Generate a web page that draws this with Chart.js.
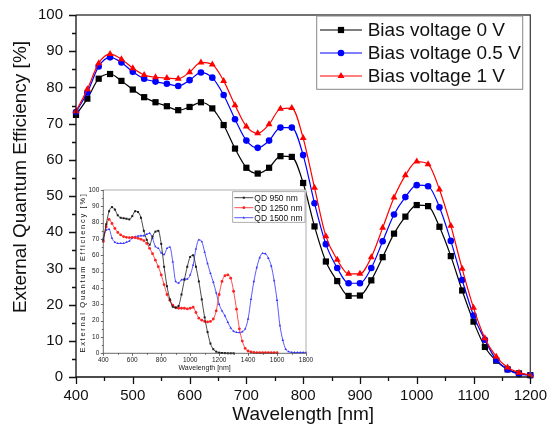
<!DOCTYPE html>
<html>
<head>
<meta charset="utf-8">
<script src="https://cdn.jsdelivr.net/npm/chart.js@4.4.0/dist/chart.umd.min.js"></script>
<style>
    html, body { margin: 0; padding: 0; background: #fff; }
    #wrap { position: relative; width: 550px; height: 432px; }
    #mainChart { position: absolute; left: 0; top: 0; }
    #insetChart { position: absolute; left: 78px; top: 178px; }
</style>
</head>
<body>
<div id="wrap">
    <canvas id="mainChart" width="550" height="432"></canvas>
    <canvas id="insetChart" width="240" height="198"></canvas>
</div>
<script>
// main plot: EQE vs wavelength for three bias voltages
const mainWl = [400, 420, 440, 460, 480, 500, 520, 540, 560, 580,
    600, 620, 640, 660, 680, 700, 720, 740, 760, 780,
    800, 820, 840, 860, 880, 900, 920, 940, 960, 980,
    1000, 1020, 1040, 1060, 1080, 1100, 1120, 1140, 1160, 1180, 1200];
const bias0 = [72.4, 76.9, 82.4, 83.7, 81.8, 79.4, 77.3, 75.9, 74.8, 73.7,
    74.6, 75.9, 74.2, 69.6, 63.1, 57.8, 56.2, 57.8, 61.0, 60.8,
    53.6, 41.6, 31.9, 26.5, 22.4, 22.5, 26.7, 33.1, 39.6, 44.3,
    47.5, 47.2, 41.5, 33.4, 23.9, 15.3, 8.3, 4.5, 2.1, 1.0, 0.5];
const bias05 = [73.2, 78.6, 85.8, 88.3, 86.9, 84.3, 82.4, 81.6, 81.0, 80.4,
    82.0, 84.1, 82.7, 77.9, 71.2, 65.3, 63.3, 65.3, 68.9, 68.9,
    61.3, 48.0, 36.7, 30.1, 25.9, 25.9, 30.1, 37.5, 44.9, 49.7,
    53.0, 52.7, 46.9, 37.6, 26.8, 17.0, 10.3, 4.7, 2.1, 0.8, 0.5];
const bias1 = [73.4, 79.5, 86.7, 89.2, 87.8, 85.3, 83.4, 82.8, 82.6, 82.4,
    84.2, 86.9, 86.3, 81.8, 75.1, 69.2, 67.3, 69.8, 74.1, 74.3,
    66.0, 52.3, 38.9, 32.4, 28.5, 28.5, 33.1, 41.2, 49.6, 55.7,
    59.5, 58.8, 51.8, 41.8, 29.9, 19.1, 10.7, 5.6, 2.6, 1.2, 0.5];
const biasLabels = ['Bias voltage 0 V', 'Bias voltage 0.5 V', 'Bias voltage 1 V'];

// inset: EQE of three QD devices
const insetWl = [400, 420, 440, 460, 480, 500, 520, 540, 560, 580,
    600, 620, 640, 660, 680, 700, 720, 740, 760, 780,
    800, 820, 840, 860, 880, 900, 920, 940, 960, 980,
    1000, 1020, 1040, 1060, 1080, 1100, 1120, 1140, 1160, 1180,
    1200, 1220, 1240, 1260, 1280, 1300, 1320, 1340, 1360, 1380,
    1400, 1420, 1440, 1460, 1480, 1500, 1520, 1540, 1560, 1580,
    1600, 1620, 1640, 1660, 1680, 1700, 1720, 1740, 1760, 1780, 1800];
const qd950 = [69.5, 79, 87, 89.5, 88, 84.5, 83, 82.7, 82.4, 82,
    84, 87, 86.5, 83, 75, 69.5, 66.5, 71.5, 74.5, 75,
    67, 53, 41, 33, 28.5, 28, 29, 36, 45, 53,
    59, 60, 53, 44, 33, 22, 13, 6, 2.5, 1,
    0.4, 0.2, 0.1, 0, 0, 0];
const qd1250 = [68.5, 77.5, 82, 79.5, 76.5, 74, 72.5, 71.5, 71, 70.8,
    71, 70.8, 70.4, 69.8, 69, 67.3, 64.3, 61, 57, 53,
    48, 42, 36, 32.5, 29.5, 28, 27.6, 27.6, 27.6, 27.2,
    27.6, 28.2, 25, 21.5, 20.3, 19.5, 19.2, 19.5, 21, 26,
    36, 44, 47.5, 48, 46, 38, 27, 15, 7.5, 3,
    1.4, 0.8, 0.5, 0.4, 0.4, 0.4, 0.4, 0.4, 0.4, 0.4, 0.4];
const qd1500 = [70.5, 75.5, 76, 70.5, 68, 67.3, 67.3, 67.3, 68, 68.8,
    70.4, 71.4, 71.8, 72, 72, 72.9, 73.5, 70.4, 65.3, 64.3,
    61.5, 60.5, 64.3, 65, 56, 44, 43, 45, 45.5, 45.5,
    48, 54, 64, 69.5, 68.4, 62, 55, 49, 43.5, 37,
    30, 26, 23, 19, 15.5, 13.5, 12.8, 12.7, 13.2, 15,
    21, 33, 44, 52.5, 58.5, 61.2, 61, 58.2, 53.5, 44.5,
    32.5, 17, 8, 2.5, 1, 0.6, 0.5, 0.5, 0.5, 0.5, 0.5];
const qdLabels = ['QD 950 nm', 'QD 1250 nm', 'QD 1500 nm'];

const FONT = "'Liberation Sans', Arial, sans-serif";
Chart.defaults.font.family = FONT;
Chart.defaults.color = '#111';

function pts(xs, ys) {
    return ys.map((y, i) => ({ x: xs[i], y: y }));
}

const plainNum = v => String(v);

function drawMarker(ctx, style, r, x, y, color) {
    ctx.fillStyle = color;
    ctx.beginPath();
    if (style === 'rect') {
        const s = r * Math.SQRT1_2;
        ctx.rect(x - s, y - s, 2 * s, 2 * s);
    } else if (style === 'triangle') {
        ctx.moveTo(x, y - r);
        ctx.lineTo(x + r * 0.866, y + r * 0.5);
        ctx.lineTo(x - r * 0.866, y + r * 0.5);
        ctx.closePath();
    } else {
        ctx.arc(x, y, r, 0, Math.PI * 2);
    }
    ctx.fill();
}

// frame + outward ticks (major / minor), drawn from the chart's scales
function frameTicks(o) {
    return {
        id: 'frameTicks',
        afterDatasetsDraw(chart) {
            const { ctx, chartArea: a, scales: { x, y } } = chart;
            ctx.save();
            ctx.lineWidth = o.lw;
            ctx.strokeStyle = o.frame;
            ctx.beginPath();
            ctx.moveTo(a.left, a.top); ctx.lineTo(a.right, a.top); ctx.lineTo(a.right, a.bottom);
            ctx.stroke();
            ctx.strokeStyle = o.axis;
            ctx.beginPath();
            ctx.moveTo(a.left, a.top); ctx.lineTo(a.left, a.bottom); ctx.lineTo(a.right, a.bottom);
            for (let v = x.min; v <= x.max; v += o.xStep) {
                const px = Math.round(x.getPixelForValue(v)) + 0.5;
                const len = v % o.xMajor === 0 ? o.major : o.minor;
                ctx.moveTo(px, a.bottom); ctx.lineTo(px, a.bottom + len);
            }
            for (let v = y.min; v <= y.max; v += o.yStep) {
                const py = Math.round(y.getPixelForValue(v)) + 0.5;
                const len = v % o.yMajor === 0 ? o.major : o.minor;
                ctx.moveTo(a.left, py); ctx.lineTo(a.left - len, py);
            }
            ctx.stroke();
            ctx.restore();
        }
    };
}

// legend box inside the plot
function boxLegend(o) {
    return {
        id: 'boxLegend',
        afterDraw(chart) {
            const ctx = chart.ctx;
            ctx.save();
            ctx.fillStyle = '#fff';
            ctx.fillRect(o.box[0], o.box[1], o.box[2], o.box[3]);
            ctx.strokeStyle = o.border;
            ctx.lineWidth = o.lw;
            ctx.strokeRect(o.box[0], o.box[1], o.box[2], o.box[3]);
            ctx.font = o.size + 'px ' + FONT;
            ctx.textBaseline = 'middle';
            o.order.forEach((di, row) => {
                const ds = chart.data.datasets[di];
                const yy = o.rows[row];
                ctx.strokeStyle = ds.borderColor;
                ctx.lineWidth = ds.borderWidth;
                ctx.beginPath();
                ctx.moveTo(o.line[0], yy); ctx.lineTo(o.line[1], yy);
                ctx.stroke();
                drawMarker(ctx, ds.pointStyle, ds.pointRadius, (o.line[0] + o.line[1]) / 2, yy, ds.borderColor);
                ctx.fillStyle = '#111';
                ctx.fillText(ds.label, o.textX, yy + 0.5);
            });
            ctx.restore();
        }
    };
}

function yTitle(o) {
    return {
        id: 'yTitle',
        afterDraw(chart) {
            const ctx = chart.ctx;
            ctx.save();
            ctx.translate(o.x, o.y);
            ctx.rotate(-Math.PI / 2);
            ctx.font = o.size + 'px ' + FONT;
            if (o.spacing) ctx.letterSpacing = o.spacing;
            ctx.fillStyle = '#111';
            ctx.textAlign = 'center';
            ctx.textBaseline = 'middle';
            ctx.fillText(o.text, 0, 0);
            ctx.restore();
        }
    };
}

const whiteArea = {
    id: 'whiteArea',
    beforeDraw(chart) {
        const { ctx, chartArea: a } = chart;
        ctx.save();
        ctx.fillStyle = '#fff';
        ctx.fillRect(a.left, a.top, a.right - a.left, a.bottom - a.top);
        ctx.restore();
    }
};

function mainSet(label, data, color, style, r, order) {
    return {
        label: label,
        data: pts(mainWl, data),
        borderColor: color,
        backgroundColor: color,
        borderWidth: 1.2,
        pointStyle: style,
        pointRadius: r,
        pointBorderWidth: 0,
        cubicInterpolationMode: 'monotone',
        clip: false,
        order: order
    };
}

new Chart(document.getElementById('mainChart'), {
    type: 'line',
    data: {
        datasets: [
            mainSet(biasLabels[0], bias0, '#000000', 'rect', 4.4, 2),
            mainSet(biasLabels[1], bias05, '#0000ff', 'circle', 3.3, 1),
            mainSet(biasLabels[2], bias1, '#ff0000', 'triangle', 4.0, 0)
        ]
    },
    options: {
        responsive: false,
        devicePixelRatio: 1,
        animation: false,
        layout: { padding: { left: 0, top: 7, right: 17, bottom: 0 }, autoPadding: false },
        plugins: { legend: { display: false }, tooltip: { enabled: false } },
        scales: {
            x: {
                type: 'linear',
                min: 400,
                max: 1200,
                afterFit: s => { s.height = 55; },
                grid: { display: true, drawOnChartArea: false, drawTicks: true, tickLength: 7, color: 'rgba(0,0,0,0)' },
                border: { display: false },
                ticks: { stepSize: 100, padding: 3, maxRotation: 0, autoSkip: false, font: { size: 15 }, color: '#111', callback: plainNum },
                title: { display: true, text: 'Wavelength [nm]', font: { size: 19 }, color: '#111', padding: { top: 0, bottom: 5.6 } }
            },
            y: {
                min: 0,
                max: 100,
                afterFit: s => { s.width = 76; },
                grid: { display: true, drawOnChartArea: false, drawTicks: true, tickLength: 7, color: 'rgba(0,0,0,0)' },
                border: { display: false },
                ticks: { stepSize: 10, padding: 6, font: { size: 15 }, color: '#111', callback: plainNum }
            }
        }
    },
    plugins: [
        frameTicks({ frame: '#444', axis: '#111', lw: 1.3, xStep: 50, xMajor: 100, yStep: 5, yMajor: 10, major: 7, minor: 4 }),
        boxLegend({ box: [316.7, 16, 206, 73.3], border: '#888', lw: 1, rows: [30, 53, 76], line: [320, 362], textX: 367.7, size: 19, order: [0, 1, 2] }),
        yTitle({ x: 20.5, y: 177, size: 19, text: 'External Quantum Efficiency [%]' })
    ]
});

function insetSet(label, data, color, style) {
    return {
        label: label,
        data: pts(insetWl, data),
        borderColor: color,
        backgroundColor: color,
        borderWidth: 0.8,
        pointStyle: style,
        pointRadius: 1.4,
        pointBorderWidth: 0,
        cubicInterpolationMode: 'monotone',
        clip: false
    };
}

new Chart(document.getElementById('insetChart'), {
    type: 'line',
    data: {
        datasets: [
            insetSet(qdLabels[0], qd950, '#1a1a1a', 'rect'),
            insetSet(qdLabels[1], qd1250, '#ff2020', 'circle'),
            insetSet(qdLabels[2], qd1500, '#3030ff', 'triangle')
        ]
    },
    options: {
        responsive: false,
        devicePixelRatio: 1,
        animation: false,
        layout: { padding: { left: 0, top: 12, right: 12, bottom: 0 }, autoPadding: false },
        plugins: { legend: { display: false }, tooltip: { enabled: false } },
        scales: {
            x: {
                type: 'linear',
                min: 400,
                max: 1800,
                afterFit: s => { s.height = 22.7; },
                grid: { display: true, drawOnChartArea: false, drawTicks: true, tickLength: 2.5, color: 'rgba(0,0,0,0)' },
                border: { display: false },
                ticks: { stepSize: 200, padding: 0.5, maxRotation: 0, autoSkip: false, font: { size: 6.5 }, color: '#222', callback: plainNum },
                title: { display: true, text: 'Wavelength [nm]', font: { size: 7 }, color: '#222', padding: { top: 0, bottom: 3.5 } }
            },
            y: {
                min: 0,
                max: 100,
                afterFit: s => { s.width = 25.3; },
                grid: { display: true, drawOnChartArea: false, drawTicks: true, tickLength: 2.5, color: 'rgba(0,0,0,0)' },
                border: { display: false },
                ticks: { stepSize: 10, padding: 1.5, font: { size: 6.5 }, color: '#222', callback: plainNum }
            }
        }
    },
    plugins: [
        whiteArea,
        frameTicks({ frame: '#999', axis: '#444', lw: 0.8, xStep: 100, xMajor: 200, yStep: 5, yMajor: 10, major: 2.5, minor: 1.5 }),
        boxLegend({ box: [154.7, 13.7, 72.3, 30.6], border: '#999', lw: 0.8, rows: [19.7, 29.7, 39.7], line: [156.3, 175.3], textX: 176.3, size: 8.5, order: [0, 1, 2] }),
        yTitle({ x: 4.5, y: 94.5, size: 7.5, spacing: '1.7px', text: 'External Quantum Efficiency [%]' })
    ]
});
</script>
</body>
</html>
